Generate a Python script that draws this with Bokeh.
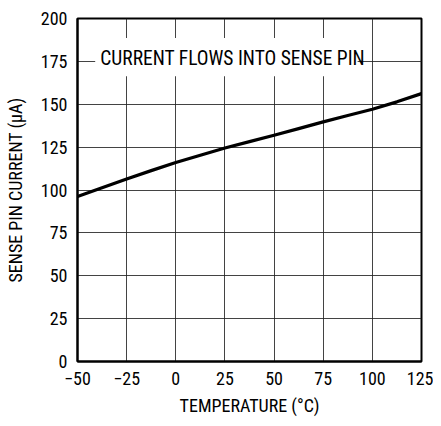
from bokeh.plotting import figure
from bokeh.models import FixedTicker, BoxAnnotation, Label, Range1d
from bokeh.embed import file_html
from bokeh.resources import INLINE

# Data
temperature = [-50, -37.5, -25, -12.5, 0, 12.5, 25, 37.5, 50, 62.5, 75, 87.5, 100, 112.5, 125]
sense_current = [96.2, 101.3, 106.4, 111.3, 116.0, 120.3, 124.5, 128.2, 131.9, 135.8,
                 139.7, 143.4, 147.1, 151.4, 156.2]

x_ticks = [-50, -25, 0, 25, 50, 75, 100, 125]
x_tick_labels = ["\u221250", "\u221225", "0", "25", "50", "75", "100", "125"]
y_ticks = [0, 25, 50, 75, 100, 125, 150, 175, 200]

note_text = "CURRENT FLOWS INTO SENSE PIN"
x_title = "TEMPERATURE (\u00b0C)"
y_title = "SENSE PIN CURRENT (\u00b5A)"

FONT = "'Roboto Condensed', 'Liberation Sans Narrow', 'DejaVu Sans Condensed', sans-serif"

p = figure(width=433, height=418, output_backend="svg", toolbar_location=None,
           x_range=Range1d(-50, 125), y_range=Range1d(0, 200))
p.min_border_left = 77
p.min_border_right = 12
p.min_border_top = 18
p.min_border_bottom = 53
p.background_fill_color = "white"
p.border_fill_color = "white"
p.outline_line_color = "black"
p.outline_line_width = 2

for ax in (p.xaxis[0], p.yaxis[0]):
    ax.major_tick_in = 0
    ax.major_tick_out = 0
    ax.minor_tick_line_color = None
    ax.axis_line_color = "black"
    ax.axis_line_width = 2
    ax.major_label_text_font = FONT
    ax.major_label_text_font_size = "18px"
    ax.major_label_text_color = "black"
    ax.axis_label_text_font = FONT
    ax.axis_label_text_font_size = "18px"
    ax.axis_label_text_font_style = "normal"
    ax.axis_label_text_color = "black"

p.xaxis.ticker = FixedTicker(ticks=x_ticks)
p.xaxis.major_label_overrides = dict(zip(x_ticks, x_tick_labels))
p.xaxis.major_label_standoff = 10
p.xaxis.axis_label = x_title
p.xaxis.axis_label_standoff = 7

p.yaxis.ticker = FixedTicker(ticks=y_ticks)
p.yaxis.major_label_standoff = 10
p.yaxis.axis_label = y_title
p.yaxis.axis_label_standoff = 12

for g in (p.xgrid[0], p.ygrid[0]):
    g.grid_line_color = "#222222"
    g.grid_line_width = 1
    g.grid_line_alpha = 0.85

p.add_layout(BoxAnnotation(left=-41, right=92.5, bottom=166.3, top=188.6,
                           fill_color="white", fill_alpha=1.0, line_color=None,
                           level="underlay"))
p.add_layout(Label(x=-38.4, y=176.8, text=note_text, text_font=FONT,
                   text_font_size="19.5px", text_color="black",
                   text_baseline="alphabetic", text_align="left"))

p.line(temperature, sense_current, line_color="black", line_width=3.2, line_join="round")

open("out.html", "w").write(file_html(p, INLINE))
